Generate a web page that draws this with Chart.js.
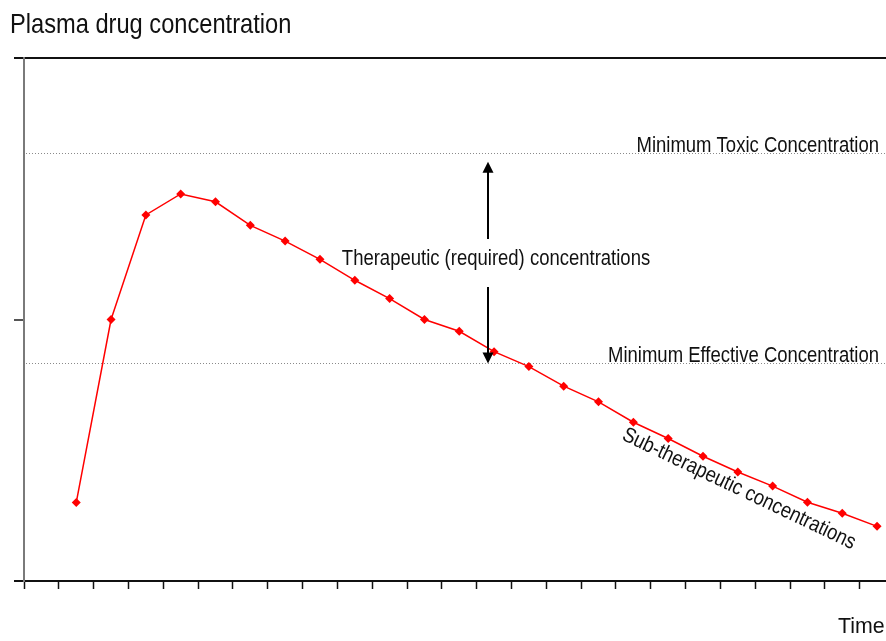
<!DOCTYPE html>
<html><head><meta charset="utf-8">
<script src="https://cdn.jsdelivr.net/npm/chart.js@4"></script>
<style>
html,body{margin:0;padding:0;background:#fff;overflow:hidden;width:886px;height:641px}
#wrap{position:absolute;left:0;top:0;width:899px;height:641px}
</style>
</head><body><div id="wrap"><canvas id="c" width="899" height="641"></canvas></div>
<script>
// ---- data ----
const timeLabels = ['0','1','2','3','4','5','6','7','8','9','10','11','12','13','14','15','16','17','18','19','20','21','22','23','24'];
const concentration = [null, 0.30, 1.00, 1.40, 1.48, 1.45, 1.36, 1.30, 1.23, 1.15, 1.08, 1.00, 0.955, 0.877, 0.82, 0.745, 0.685, 0.607, 0.545, 0.477, 0.417, 0.363, 0.301, 0.259, 0.209];
const yTickValues = [0, 1, 2];
const thresholdNames = ['Minimum Toxic Concentration', 'Minimum Effective Concentration'];
const thresholdValues = [1.638, 0.832];
const titleText = 'Plasma drug concentration';
const xAxisTitle = 'Time';
const rangeLabel = 'Therapeutic (required) concentrations';
const subLabel = 'Sub-therapeutic concentrations';

const FONT = '"Liberation Sans", Arial, sans-serif';
const SX = 0.86;
function txt(ctx, s, x, y, size, align, baseline, angle, sx) {
  ctx.save();
  ctx.translate(x, y);
  if (angle) ctx.rotate(angle);
  ctx.scale(sx || SX, 1);
  ctx.font = size + 'px ' + FONT;
  ctx.textAlign = align;
  ctx.textBaseline = baseline;
  ctx.fillStyle = '#111';
  ctx.fillText(s, 0, 0);
  ctx.restore();
}

const decor = {
  id: 'decor',
  beforeDatasetsDraw(chart) {
    const ctx = chart.ctx, y = chart.scales.y, area = chart.chartArea;
    ctx.save();
    ctx.strokeStyle = '#8a8a8a';
    ctx.lineWidth = 1;
    ctx.setLineDash([1, 2]);
    thresholdValues.forEach(v => {
      const py = Math.round(y.getPixelForValue(v)) + 0.5;
      ctx.beginPath();
      ctx.moveTo(area.left + 2, py);
      ctx.lineTo(chart.width, py);
      ctx.stroke();
    });
    ctx.restore();
  },
  afterDraw(chart) {
    const ctx = chart.ctx, y = chart.scales.y, x = chart.scales.x;
    txt(ctx, titleText, 10, 33, 27.5, 'left', 'alphabetic');
    txt(ctx, xAxisTitle, 838, 633, 22, 'left', 'alphabetic', null, 0.97);
    const yT = y.getPixelForValue(thresholdValues[0]);
    const yE = y.getPixelForValue(thresholdValues[1]);
    txt(ctx, thresholdNames[0], 879, yT - 1, 21.5, 'right', 'alphabetic');
    txt(ctx, thresholdNames[1], 879, yE - 1, 21.5, 'right', 'alphabetic');
    const ax = 488;
    txt(ctx, rangeLabel, 496, 265, 21.5, 'center', 'alphabetic');
    txt(ctx, subLabel, 739, 489, 21.5, 'center', 'middle', 25.5 * Math.PI / 180);
    // arrows
    ctx.save();
    ctx.strokeStyle = '#000'; ctx.fillStyle = '#000'; ctx.lineWidth = 2;
    const upTip = yT + 9, downTip = yE;
    ctx.beginPath(); ctx.moveTo(ax, 239); ctx.lineTo(ax, upTip + 8); ctx.stroke();
    ctx.beginPath(); ctx.moveTo(ax, upTip); ctx.lineTo(ax - 5.5, upTip + 11); ctx.lineTo(ax + 5.5, upTip + 11); ctx.closePath(); ctx.fill();
    ctx.beginPath(); ctx.moveTo(ax, 287); ctx.lineTo(ax, downTip - 8); ctx.stroke();
    ctx.beginPath(); ctx.moveTo(ax, downTip); ctx.lineTo(ax - 5.5, downTip - 11); ctx.lineTo(ax + 5.5, downTip - 11); ctx.closePath(); ctx.fill();
    ctx.restore();
  }
};

new Chart(document.getElementById('c'), {
  type: 'line',
  data: {
    labels: timeLabels,
    datasets: [{
      data: concentration,
      borderColor: '#ff0000',
      backgroundColor: '#ff0000',
      borderWidth: 1.5,
      pointStyle: 'rectRot',
      pointRadius: 4.5,
      pointBorderWidth: 0,
      pointBackgroundColor: '#ff0000',
      tension: 0,
      clip: false
    }]
  },
  options: {
    responsive: false,
    animation: false,
    events: [],
    layout: { padding: { top: 58, left: 0, right: 0, bottom: 0 } },
    plugins: { legend: { display: false }, tooltip: { enabled: false }, title: { display: false } },
    scales: {
      x: {
        type: 'category',
        offset: true,
        afterFit: s => { s.height = 60; s.paddingLeft = 0; s.paddingRight = 0; },
        grid: { offset: true, drawOnChartArea: false, drawTicks: true, tickLength: 8, tickColor: '#111', tickWidth: 1.5 },
        border: { display: true, color: '#111', width: 2 },
        ticks: { display: false }
      },
      y: {
        min: 0, max: 2,
        afterFit: s => { s.width = 24; },
        afterBuildTicks: s => { s.ticks = yTickValues.map(v => ({ value: v })); },
        grid: {
          drawOnChartArea: true, drawTicks: true, tickLength: 10, lineWidth: 2,
          color: c => (c.tick && c.tick.value === 2) ? '#111' : 'rgba(0,0,0,0)',
          tickColor: c => (c.tick && c.tick.value === 1) ? '#555' : '#111'
        },
        border: { display: true, color: '#7a7a7a', width: 2 },
        ticks: { display: false }
      }
    }
  },
  plugins: [decor]
});
</script>
</body></html>
